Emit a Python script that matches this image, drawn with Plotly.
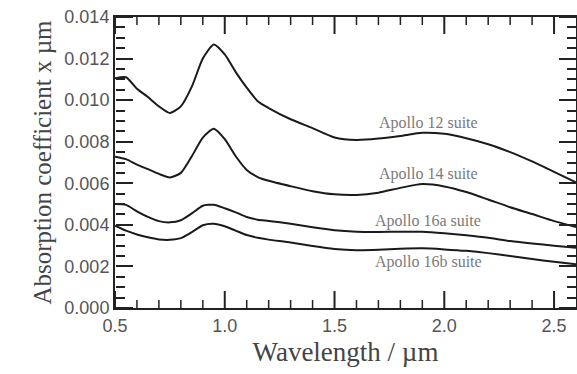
import plotly.graph_objects as go

wavelength = [0.50, 0.55, 0.60, 0.65, 0.70, 0.75, 0.80, 0.85, 0.90, 0.95,
              1.00, 1.05, 1.10, 1.15, 1.20, 1.30, 1.40, 1.50, 1.60, 1.70,
              1.80, 1.90, 2.00, 2.10, 2.20, 2.30, 2.40, 2.50, 2.60]

apollo12 = [11.05, 11.10, 10.55, 10.15, 9.70, 9.38, 9.70, 10.65, 12.00, 12.68,
            12.20, 11.35, 10.60, 9.95, 9.62, 9.08, 8.65, 8.20, 8.08, 8.15,
            8.28, 8.43, 8.38, 8.17, 7.88, 7.50, 7.05, 6.55, 6.05]
apollo14 = [7.28, 7.16, 6.90, 6.68, 6.45, 6.28, 6.50, 7.30, 8.20, 8.62,
            8.12, 7.30, 6.64, 6.30, 6.12, 5.86, 5.62, 5.47, 5.44, 5.55,
            5.78, 5.96, 5.85, 5.58, 5.22, 4.85, 4.52, 4.18, 3.90]
apollo16a = [5.00, 4.96, 4.65, 4.38, 4.18, 4.12, 4.22, 4.55, 4.92, 4.97,
             4.80, 4.60, 4.38, 4.25, 4.19, 4.05, 3.88, 3.74, 3.67, 3.66,
             3.67, 3.67, 3.60, 3.50, 3.38, 3.22, 3.10, 3.00, 2.90]
apollo16b = [3.96, 3.72, 3.54, 3.40, 3.30, 3.28, 3.36, 3.65, 3.98, 4.05,
             3.93, 3.72, 3.51, 3.38, 3.29, 3.15, 2.98, 2.84, 2.78, 2.80,
             2.85, 2.87, 2.82, 2.75, 2.64, 2.50, 2.36, 2.22, 2.10]

series_names = ["Apollo 12 suite", "Apollo 14 suite", "Apollo 16a suite", "Apollo 16b suite"]
series_values = [apollo12, apollo14, apollo16a, apollo16b]
label_x = 1.926
label_y = [0.0089, 0.00645, 0.0042, 0.0022]

X_RANGE = [0.5, 2.6]
Y_RANGE = [0, 0.014]
x_major = [0.5, 1.0, 1.5, 2.0, 2.5]
x_minor = [0.6, 0.7, 0.8, 0.9, 1.1, 1.2, 1.3, 1.4, 1.6, 1.7, 1.8, 1.9,
           2.1, 2.2, 2.3, 2.4]

W, H = 577, 374
M = dict(l=115, r=1, t=17, b=66)
plot_h = H - M["t"] - M["b"]

fig = go.Figure()
for name, vals in zip(series_names, series_values):
    fig.add_trace(go.Scatter(
        x=wavelength, y=[v * 1e-3 for v in vals], mode="lines", name=name,
        line=dict(color="#1a1a1a", width=2, shape="spline", smoothing=0.6),
        showlegend=False))

# empty traces that attach the tick-only helper axes (ticks pointing into the plot)
fig.add_trace(go.Scatter(x=[], y=[], xaxis="x2", yaxis="y2", showlegend=False, hoverinfo="skip"))
fig.add_trace(go.Scatter(x=[], y=[], xaxis="x3", yaxis="y3", showlegend=False, hoverinfo="skip"))

for name, ly in zip(series_names, label_y):
    fig.add_annotation(x=label_x, y=ly, text=name, showarrow=False,
                       font=dict(family="Liberation Serif", size=16, color="#7a7a7a"))

# inward x ticks on bottom and top edges (lengths converted from pixels to data units)
px_to_y = (Y_RANGE[1] - Y_RANGE[0]) / plot_h
for vals, length, width in ((x_major, 17, 2), (x_minor, 8, 1.5)):
    d = length * px_to_y
    for v in vals:
        fig.add_shape(type="line", xref="x", yref="y", x0=v, x1=v,
                      y0=Y_RANGE[0], y1=Y_RANGE[0] + d,
                      line=dict(color="#222", width=width), layer="above")
        fig.add_shape(type="line", xref="x", yref="y", x0=v, x1=v,
                      y0=Y_RANGE[1], y1=Y_RANGE[1] - d,
                      line=dict(color="#222", width=width), layer="above")

xhelp = dict(range=X_RANGE, ticks="", showticklabels=False, showline=False,
             showgrid=False, zeroline=False, overlaying="x", anchor="free",
             automargin=False)
ytick = dict(range=Y_RANGE, tickmode="linear", tick0=0, dtick=0.002,
             ticks="outside", ticklen=17, tickwidth=2, tickcolor="#222",
             minor=dict(tickmode="linear", tick0=0, dtick=0.0005, ticks="outside",
                        ticklen=9, tickwidth=1.5, tickcolor="#222"),
             showticklabels=False, showline=False, showgrid=False, zeroline=False,
             overlaying="y", anchor="free", automargin=False)

fig.update_layout(
    width=W, height=H,
    margin=M,
    paper_bgcolor="white", plot_bgcolor="white",
    xaxis=dict(
        range=X_RANGE, tickmode="array", tickvals=x_major, tickformat=".1f",
        ticks="", showline=True, linecolor="#222", linewidth=2, mirror=True,
        showgrid=False, zeroline=False, automargin=False,
        tickfont=dict(family="Liberation Sans", size=18, color="#555"),
        title=dict(text="Wavelength / µm", standoff=8,
                   font=dict(family="Liberation Serif", size=27, color="#444")),
    ),
    yaxis=dict(
        range=Y_RANGE, tickmode="linear", tick0=0, dtick=0.002, tickformat=".3f",
        ticks="", showline=True, linecolor="#222", linewidth=2, mirror=True,
        showgrid=False, zeroline=False, automargin=False,
        tickfont=dict(family="Liberation Sans", size=18, color="#555"),
        title=dict(text="Absorption coefficient x µm", standoff=6,
                   font=dict(family="Liberation Serif", size=25, color="#444")),
    ),
    xaxis2=dict(side="top", position=0, **xhelp),
    xaxis3=dict(side="bottom", position=1, **xhelp),
    yaxis2=dict(side="right", position=0, **ytick),
    yaxis3=dict(side="left", position=1, **ytick),
)

fig.write_html("out.html")
